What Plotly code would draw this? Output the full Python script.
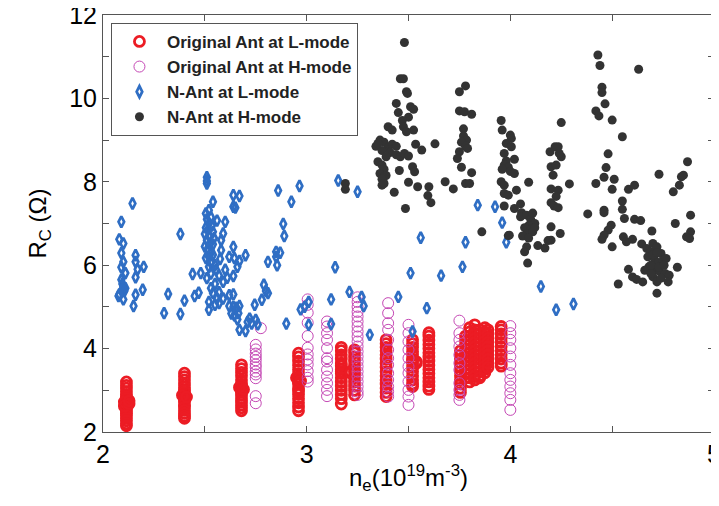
import plotly.graph_objects as go

# ---------------- data ----------------
# Original antenna, L-mode (red): stacks of points at given densities
orig_L_col_x = [2.115, 2.105, 2.128, 2.40, 2.39, 2.41, 2.68, 2.67, 2.69, 2.96, 2.95, 2.97,
                3.17, 3.235, 3.215, 3.39, 3.52, 3.538, 3.60, 3.755, 3.78, 3.80, 3.825, 3.85,
                3.875, 3.89, 3.955]
orig_L_col_y = [
    [3.2, 3.12, 3.05, 2.97, 2.9, 2.85, 2.8, 2.76, 2.72, 2.7, 2.68, 2.66, 2.63, 2.6, 2.56, 2.5, 2.45, 2.4, 2.33, 2.27, 2.2, 2.15],
    [2.72, 2.62], [2.68, 2.75],
    [3.41, 3.33, 3.25, 3.15, 3.07, 3.0, 2.95, 2.9, 2.87, 2.85, 2.82, 2.78, 2.72, 2.65, 2.6, 2.52, 2.45, 2.38, 2.33],
    [2.88], [2.84],
    [3.61, 3.52, 3.43, 3.35, 3.25, 3.15, 3.1, 3.05, 3.02, 3.0, 2.95, 2.88, 2.8, 2.72, 2.65, 2.58, 2.51],
    [3.07], [3.02],
    [3.89, 3.8, 3.7, 3.6, 3.5, 3.4, 3.32, 3.28, 3.25, 3.2, 3.15, 3.05, 2.98, 2.9, 2.8, 2.7, 2.6, 2.51],
    [3.3], [3.22],
    [4.03, 3.95, 3.85, 3.75, 3.65, 3.58, 3.5, 3.45, 3.4, 3.3, 3.2, 3.1, 3.0, 2.9, 2.8, 2.67],
    [3.97, 3.9, 3.8, 3.7, 3.6, 3.5, 3.45, 3.38, 3.3, 3.2, 3.1, 3.0, 2.89],
    [3.45, 3.42],
    [4.21, 4.12, 4.03, 3.95, 3.85, 3.75, 3.65, 3.55, 3.45, 3.35, 3.25, 3.15, 3.05, 2.95, 2.85],
    [4.21, 4.12, 4.03, 3.93, 3.85, 3.75, 3.7, 3.65, 3.55, 3.45, 3.35, 3.25, 3.15, 3.09],
    [3.69, 3.65],
    [4.38, 4.3, 4.2, 4.1, 4.0, 3.9, 3.8, 3.7, 3.6, 3.5, 3.4, 3.3, 3.2, 3.1, 3.02],
    [3.95, 3.85, 3.75, 3.65, 3.55, 3.45, 3.35, 3.25, 3.15, 3.05, 2.95],
    [4.3, 4.2, 4.1, 4.0, 3.9, 3.8, 3.7, 3.6, 3.5, 3.4, 3.3],
    [4.5, 4.4, 4.3, 4.2, 4.1, 4.0, 3.9, 3.8, 3.7, 3.6, 3.5, 3.4, 3.3, 3.2],
    [4.57, 4.45, 4.35, 4.25, 4.15, 4.05, 3.95, 3.85, 3.75, 3.65, 3.55, 3.45, 3.35, 3.25],
    [4.45, 4.35, 4.25, 4.15, 4.05, 3.95, 3.85, 3.75, 3.65, 3.55, 3.45, 3.35, 3.3],
    [4.5, 4.4, 4.3, 4.2, 4.1, 4.0, 3.9, 3.8, 3.7, 3.6, 3.5, 3.42],
    [4.45, 4.35, 4.25, 4.15, 4.05, 3.95, 3.85, 3.75, 3.65, 3.55],
    [4.53, 4.45, 4.35, 4.25, 4.15, 4.05, 3.95, 3.85, 3.75, 3.65, 3.58],
]

# Original antenna, H-mode (magenta)
orig_H_col_x = [2.75, 2.775, 3.005, 3.10, 3.25, 3.40, 3.50, 3.75, 4.0]
orig_H_col_y = [
    [4.09, 3.98, 3.88, 3.8, 3.72, 3.62, 3.55, 3.45, 3.38, 3.29, 2.86, 2.69],
    [4.49],
    [5.18, 5.05, 4.86, 4.62, 4.30, 4.02, 3.86, 3.74, 3.62, 3.46, 3.30, 3.21],
    [4.65, 4.53, 4.37, 4.21, 4.01, 3.77, 3.69, 3.49, 3.33, 3.17, 3.01, 2.86],
    [5.23, 5.12, 5.0, 4.88, 4.77, 4.65, 4.53, 4.41, 4.29, 4.17, 4.05, 3.93, 3.81, 3.69, 3.57, 3.45, 3.33, 3.21, 3.09, 2.97, 2.89],
    [5.09, 4.85, 4.61, 4.45, 4.21, 3.97, 3.77, 3.61, 3.41, 3.25, 3.09, 2.97, 2.85],
    [4.57, 4.37, 4.17, 3.97, 3.77, 3.57, 3.41, 3.21, 3.01, 2.85, 2.65],
    [4.67, 4.37, 4.21, 4.05, 3.85, 3.65, 3.49, 3.17, 3.01, 2.89, 2.77],
    [4.54, 4.37, 4.21, 4.01, 3.81, 3.61, 3.41, 3.25, 3.09, 2.93, 2.77, 2.53],
]

# N-antenna, L-mode (blue)
n_L_x = [2.145, 2.09, 2.08, 2.10, 2.09, 2.10, 2.09, 2.11, 2.09, 2.095, 2.10, 2.11, 2.095, 2.105, 2.076, 2.10, 2.08,
         2.16, 2.16, 2.17, 2.20, 2.16, 2.195, 2.16, 2.15,
         2.32, 2.30, 2.38, 2.38, 2.40, 2.44, 2.45, 2.47, 2.48,
         2.51, 2.51, 2.51, 2.54, 2.52, 2.505, 2.51, 2.52, 2.505, 2.515, 2.50, 2.52, 2.51, 2.525, 2.50, 2.515, 2.53, 2.52,
         2.56, 2.60, 2.59, 2.505, 2.52, 2.51, 2.53, 2.54, 2.52, 2.52, 2.55, 2.57, 2.555, 2.58, 2.58, 2.575, 2.59, 2.60, 2.61,
         2.64, 2.64, 2.67, 2.65, 2.64, 2.645, 2.62, 2.67, 2.66, 2.70, 2.64, 2.62, 2.64, 2.62, 2.64, 2.655, 2.67, 2.63, 2.645,
         2.665, 2.66, 2.67, 2.70, 2.71, 2.72, 2.73, 2.75, 2.76, 2.745, 2.78, 2.79, 2.80, 2.81, 2.81, 2.85, 2.85, 2.855, 2.87,
         2.86, 2.885, 2.89, 2.925, 2.90,
         2.53, 2.535, 2.54, 2.545, 2.54, 2.53, 2.54, 2.55, 2.53, 2.57, 2.55, 2.57, 2.59, 2.56,
         2.965, 3.155, 3.25, 3.14, 3.56, 3.51, 3.66, 3.765, 3.78, 3.84, 3.925, 3.96, 3.98, 4.15, 4.31, 4.225, 3.21, 3.12,
         3.27, 3.45, 3.59, 3.28, 3.12, 3.31, 3.52, 3.01, 3.01, 2.97, 2.99]
n_L_y = [7.48, 7.04, 6.62, 6.52, 6.29, 6.08, 5.95, 5.81, 5.65, 5.55, 5.5, 5.45, 5.42, 5.38, 5.26, 5.18, 5.3,
         6.24, 6.08, 5.9, 5.96, 5.71, 5.41, 5.29, 5.02,
         5.31, 4.85, 4.83, 6.75, 5.15, 5.79, 5.26, 5.34, 5.81,
         8.11, 8.02, 7.96, 7.52, 7.32, 7.24, 7.1, 7.0, 6.9, 6.85, 6.75, 6.7, 6.6, 6.5, 6.45, 6.4, 6.3, 6.2,
         7.07, 7.04, 6.76, 6.17, 5.96, 5.69, 5.45, 5.33, 5.12, 4.93, 5.05, 5.09, 5.89, 6.36, 6.6, 6.15, 5.6, 5.89, 5.7,
         7.68, 7.40, 7.66, 7.38, 6.44, 6.17, 6.2, 6.1, 5.96, 6.24, 5.74, 5.28, 5.3, 5.02, 5.0, 4.98, 5.02, 4.84, 4.8,
         4.85, 4.7, 4.45, 4.42, 4.64, 4.72, 4.6, 4.69, 4.58, 5.05, 5.17, 5.53, 5.38, 5.33, 6.08, 6.32, 6.2, 6.0, 6.3,
         7.79, 6.99, 6.7, 7.52, 4.6,
         7.15, 6.95, 6.8, 6.65, 6.5, 6.05, 6.25, 6.0, 5.8, 5.75, 5.55, 5.35, 5.2, 5.2,
         7.9, 8.03, 7.76, 5.95, 6.66, 5.81, 5.75, 5.96, 6.55, 7.44, 7.40, 7.02, 6.55, 5.49, 5.07, 4.93, 5.36, 5.18,
         5.24, 5.24, 4.97, 5.02, 4.59, 4.33, 4.41, 5.12, 4.57, 4.94, 5.0]

# N-antenna, H-mode (dark grey)
n_H_x = [3.48, 3.46, 3.475, 3.49, 3.495, 3.44, 3.51, 3.525, 3.45, 3.50, 3.47, 3.40, 3.475, 3.525, 3.42, 3.49,
         3.36, 3.38, 3.34, 3.40, 3.42, 3.44, 3.37, 3.35, 3.41, 3.39,
         3.535, 3.565, 3.63, 3.44, 3.46, 3.48, 3.50, 3.35, 3.37, 3.38, 3.36, 3.39, 3.375, 3.455, 3.52, 3.53, 3.37, 3.37,
         3.50, 3.545, 3.60, 3.43, 3.595, 3.61, 3.485, 3.68, 3.72, 3.19, 3.19, 3.86, 3.99, 3.38,
         3.75, 3.78, 3.75, 3.775, 3.81, 3.77, 3.77, 3.785, 3.76, 3.78, 3.79, 3.75, 3.74, 3.76, 3.81, 3.78, 3.80,
         3.955, 3.96, 4.0, 4.005, 3.98, 4.005, 3.97, 4.02, 3.98, 3.97, 3.99, 3.96, 4.0, 4.02, 3.955, 3.97, 3.97, 3.99,
         4.03, 4.09, 3.97, 4.02, 4.05, 4.055, 4.05,
         4.08, 4.10, 4.11, 4.12, 4.09, 4.07, 4.10, 4.08, 4.11, 4.06, 4.09, 4.12,
         3.995, 4.08, 4.07, 4.085, 4.135, 4.17, 4.185, 4.20, 4.20, 4.245,
         4.25, 4.195, 4.22, 4.235, 4.25, 4.24, 4.20, 4.225, 4.21, 4.20, 4.235, 4.225, 4.20, 4.215, 4.235, 4.29, 4.38,
         4.43, 4.44, 4.45, 4.45, 4.465, 4.42, 4.435, 4.50, 4.55, 4.63, 4.48, 4.47, 4.46, 4.51, 4.42, 4.50, 4.58, 4.61,
         4.55, 4.55, 4.46, 4.46, 4.56, 4.61, 4.64, 4.495, 4.48, 4.46, 4.45, 4.50, 4.555, 4.57, 4.60, 4.695,
         4.645, 4.67, 4.69, 4.70, 4.72, 4.74, 4.675, 4.71, 4.725, 4.75, 4.765, 4.68, 4.71, 4.66, 4.735, 4.76, 4.78,
         4.70, 4.72, 4.74, 4.775, 4.72, 4.58, 4.60, 4.62, 4.65, 4.53, 4.82, 4.73, 4.83, 4.84, 4.85, 4.87, 4.80, 4.885,
         4.81, 4.885, 4.865, 4.88,
         4.69, 4.70, 4.73, 4.755, 4.69, 4.72]
n_H_y = [11.34, 10.47, 10.47, 10.16, 10.12, 9.88, 9.8, 9.74, 9.66, 9.55, 9.47, 9.32, 9.32, 9.24, 9.24, 9.2,
         9.0, 8.95, 8.85, 8.82, 8.9, 8.85, 8.75, 8.92, 8.7, 8.6,
         8.9, 8.76, 8.91, 8.65, 8.6, 8.68, 8.62, 8.48, 8.4, 8.3, 8.2, 8.15, 8.1, 8.27, 8.36, 8.24, 8.06, 7.92,
         7.99, 7.88, 7.88, 7.75, 7.67, 7.5, 7.36, 8.0, 7.83, 7.96, 7.82, 6.80, 6.71, 7.96,
         10.16, 10.3, 9.70, 9.68, 9.62, 9.27, 9.1, 9.0, 8.95, 8.85, 8.8, 8.72, 8.56, 8.35, 8.22, 7.96, 7.96,
         9.47, 9.24, 9.12, 9.04, 8.92, 8.84, 8.68, 8.54, 8.5, 8.4, 8.35, 8.3, 8.25, 8.2, 8.0, 7.92, 7.72, 7.68,
         7.80, 7.99, 7.42, 7.36, 7.47, 7.26, 7.16,
         7.2, 7.1, 7.25, 7.0, 6.95, 6.9, 6.85, 6.75, 6.8, 6.7, 6.65, 6.9,
         6.72, 6.44, 6.32, 6.05, 6.47, 6.41, 6.59, 6.6, 6.92, 6.76,
         9.42, 8.72, 8.84, 8.84, 8.6, 8.68, 8.36, 8.4, 8.16, 7.83, 7.8, 7.65, 7.5, 7.42, 7.38, 7.95, 7.23,
         11.04, 10.79, 10.27, 10.14, 9.87, 9.70, 9.58, 9.48, 9.08, 10.70, 8.67, 8.34, 8.11, 8.06, 7.96, 7.82, 7.82, 7.92,
         7.54, 7.34, 7.32, 7.26, 7.12, 7.10, 7.07, 6.96, 6.84, 6.72, 6.62, 6.44, 6.68, 6.56, 6.62, 6.82,
         6.51, 6.40, 6.32, 6.52, 6.44, 6.28, 6.20, 6.12, 6.05, 6.12, 6.16, 5.96, 5.88, 5.88, 5.84, 5.80, 5.76,
         5.72, 5.60, 5.69, 5.60, 5.33, 5.90, 5.72, 5.66, 5.60, 5.55, 5.95, 8.18, 7.92, 8.12, 8.16, 8.48, 7.76, 7.20,
         7.0, 6.80, 6.68, 6.64,
         6.0, 6.25, 5.95, 6.0, 5.8, 6.3]

legend_names = ["Original Ant at L-mode", "Original Ant at H-mode", "N-Ant at L-mode", "N-Ant at H-mode"]
x_ticks = [2, 2.5, 3, 3.5, 4, 4.5, 5]
x_ticktext = ["2", "", "3", "", "4", "", "5"]
y_ticks = [2, 3, 4, 5, 6, 7, 8, 9, 10, 11, 12]
y_ticktext = ["2", "", "4", "", "6", "", "8", "", "10", "", "12"]


def expand(cols_x, cols_y):
    xs, ys = [], []
    for cx, cy in zip(cols_x, cols_y):
        for v in cy:
            xs.append(cx)
            ys.append(v)
    return xs, ys


oL_x, oL_y = expand(orig_L_col_x, orig_L_col_y)
oH_x, oH_y = expand(orig_H_col_x, orig_H_col_y)

RED = "#ec1c24"
MAG = "#c548b5"
BLUE = "#2f6ec4"
DARK = "#333333"

fig = go.Figure()
fig.add_trace(go.Scatter(x=oL_x, y=oL_y, mode="markers", name="<b>" + legend_names[0] + "</b>",
                         legendgroup="a",
                         marker=dict(symbol="circle-open", size=10, color=RED, line=dict(width=2.8, color=RED))))
fig.add_trace(go.Scatter(x=oH_x, y=oH_y, mode="markers", name="<b>" + legend_names[1] + "</b>",
                         legendgroup="b",
                         marker=dict(symbol="circle-open", size=11, color=MAG, line=dict(width=1, color=MAG))))
fig.add_trace(go.Scatter(x=n_L_x, y=n_L_y, mode="markers", name="<b>" + legend_names[2] + "</b>",
                         legendgroup="c",
                         marker=dict(symbol="diamond-tall-open", size=8, color=BLUE, line=dict(width=2.7, color=BLUE))))
fig.add_trace(go.Scatter(x=n_H_x, y=n_H_y, mode="markers", name="<b>" + legend_names[3] + "</b>",
                         legendgroup="d",
                         marker=dict(symbol="circle", size=9, color=DARK, line=dict(width=0))))

axis_common = dict(showline=True, linecolor="#555555", linewidth=1, mirror="ticks",
                   ticks="inside", ticklen=6, tickcolor="#555555", showgrid=False, zeroline=False,
                   automargin=False, ticklabeloverflow="allow",
                   tickfont=dict(family="Arial", size=25, color="black"))

# The page places the figure 8 px from the top-left of the window,
# so the figure is sized to fill the rest of the 719x506 window.
fig.update_layout(
    width=711, height=498,
    margin=dict(l=95, r=5, t=7, b=74, autoexpand=False),
    paper_bgcolor="white", plot_bgcolor="white",
    font=dict(family="Arial", color="black"),
    showlegend=True,
    legend=dict(x=0.013, y=0.981, xanchor="left", yanchor="top",
                bgcolor="white", bordercolor="#555555", borderwidth=1,
                font=dict(family="Arial", size=17, color="#222222"),
                tracegroupgap=0, itemwidth=45),
    xaxis=dict(range=[2, 5], tickvals=x_ticks, ticktext=x_ticktext,
               title=dict(text="n<sub>e</sub>(10<sup>19</sup>m<sup>-3</sup>)",
                          font=dict(family="Arial", size=24), standoff=2),
               **axis_common),
    yaxis=dict(range=[2, 12], tickvals=y_ticks, ticktext=y_ticktext,
               title=dict(text="R<sub>C</sub> (Ω)", font=dict(family="Arial", size=24)),
               **axis_common),
)

fig.write_html("out.html")
